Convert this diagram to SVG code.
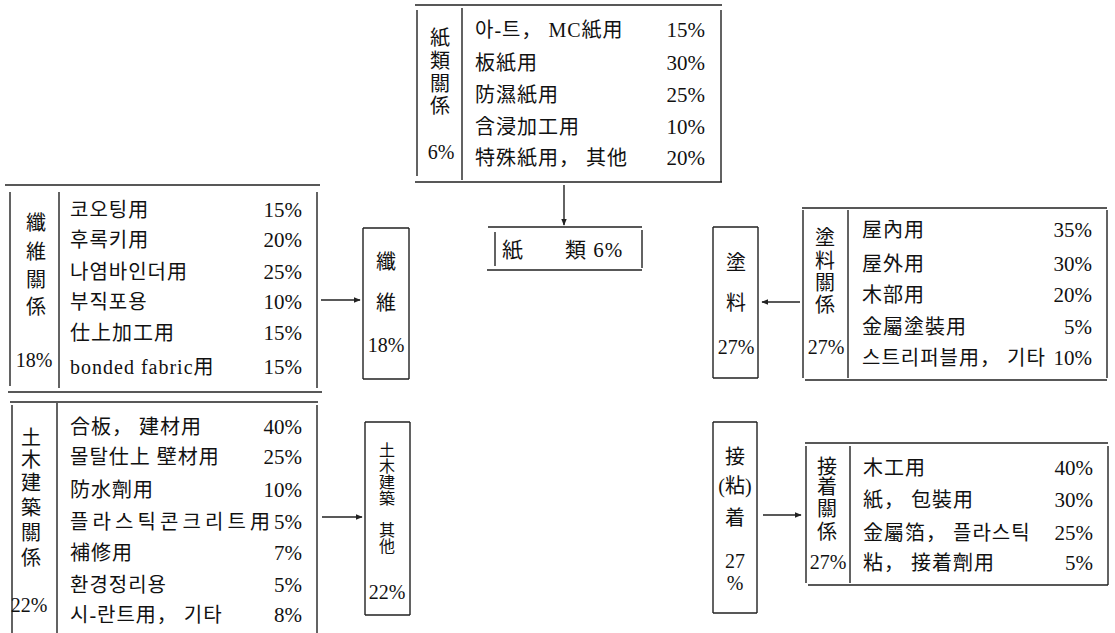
<svg xmlns="http://www.w3.org/2000/svg" width="1115" height="633" viewBox="0 0 1115 633">
<defs>
<style>
.ln{stroke:#222;stroke-width:1.4;fill:none}
text{font-family:"Liberation Serif","Noto Sans CJK KR",serif;fill:#111;dominant-baseline:central}
.r{font-size:20px;letter-spacing:1px}
.p{font-size:21px;text-anchor:end}
.v{font-size:20px;text-anchor:middle}
.s{font-size:16px;text-anchor:middle}
</style>
<marker id="ah" viewBox="0 0 10 10" refX="9" refY="5" markerWidth="7" markerHeight="7" orient="auto-start-reverse" markerUnits="userSpaceOnUse">
<path d="M0,1 L10,5 L0,9 z" fill="#222"/>
</marker>
</defs>
<rect width="1115" height="633" fill="#fff"/>

<g id="paper-rel">
<path class="ln" d="M415,5H722M415,182H722M417,10V176M462,8V180M721,10V182"/>
<text class="v" x="440" y="38">紙</text>
<text class="v" x="440" y="61">類</text>
<text class="v" x="440" y="84">關</text>
<text class="v" x="440" y="106">係</text>
<text class="v" x="441" y="152">6%</text>
<text class="r" x="475" y="30">아-트， MC紙用</text>
<text class="r" x="475" y="63">板紙用</text>
<text class="r" x="475" y="95">防濕紙用</text>
<text class="r" x="475" y="127">含浸加工用</text>
<text class="r" x="475" y="158">特殊紙用， 其他</text>
<text class="p" x="705" y="30">15%</text>
<text class="p" x="705" y="63">30%</text>
<text class="p" x="705" y="95">25%</text>
<text class="p" x="705" y="127">10%</text>
<text class="p" x="705" y="158">20%</text>
</g>

<g id="paper">
<path class="ln" d="M488,227H642M487,270H642M495,232V266M642,230V268"/>
<text class="r" x="502" y="250" style="font-size:21px">紙</text>
<text class="r" x="565" y="250" style="font-size:21px">類 6%</text>
</g>

<g id="fiber-rel">
<path class="ln" d="M5,185H320M8,392H322M10,192V386M59,192V388M317,192V388"/>
<text class="v" x="36" y="223">纖</text>
<text class="v" x="36" y="252">維</text>
<text class="v" x="36" y="280">關</text>
<text class="v" x="36" y="307">係</text>
<text class="v" x="34" y="360">18%</text>
<text class="r" x="70" y="210">코오팅用</text>
<text class="r" x="70" y="240">후록키用</text>
<text class="r" x="70" y="272">나염바인더用</text>
<text class="r" x="70" y="302">부직포용</text>
<text class="r" x="70" y="333">仕上加工用</text>
<text class="r" x="70" y="367">bonded fabric用</text>
<text class="p" x="302" y="210">15%</text>
<text class="p" x="302" y="240">20%</text>
<text class="p" x="302" y="272">25%</text>
<text class="p" x="302" y="302">10%</text>
<text class="p" x="302" y="333">15%</text>
<text class="p" x="302" y="367">15%</text>
</g>

<g id="fiber">
<path class="ln" d="M363,228H409M363,379H409M363,228V379M409,228V379"/>
<text class="v" x="386" y="262">纖</text>
<text class="v" x="386" y="303">維</text>
<text class="v" x="386" y="345">18%</text>
</g>

<g id="civil-rel">
<path class="ln" d="M10,402H318M12,405V633M57,403V633M317,405V633"/>
<text class="v" x="31" y="438">土</text>
<text class="v" x="31" y="460">木</text>
<text class="v" x="31" y="483">建</text>
<text class="v" x="31" y="508">築</text>
<text class="v" x="31" y="533">關</text>
<text class="v" x="31" y="558">係</text>
<text class="v" x="29" y="605">22%</text>
<text class="r" x="70" y="427">合板， 建材用</text>
<text class="r" x="70" y="457">몰탈仕上 壁材用</text>
<text class="r" x="70" y="490">防水劑用</text>
<text class="r" x="70" y="522" style="letter-spacing:0" textLength="200" lengthAdjust="spacing">플라스틱콘크리트用</text>
<text class="r" x="70" y="553">補修用</text>
<text class="r" x="70" y="585">환경정리용</text>
<text class="r" x="70" y="615">시-란트用， 기타</text>
<text class="p" x="302" y="427">40%</text>
<text class="p" x="302" y="457">25%</text>
<text class="p" x="302" y="490">10%</text>
<text class="p" x="302" y="522">5%</text>
<text class="p" x="302" y="553">7%</text>
<text class="p" x="302" y="585">5%</text>
<text class="p" x="302" y="615">8%</text>
</g>

<g id="civil">
<path class="ln" d="M365,422H410M365,615H410M365,422V615M410,422V615"/>
<text class="s" x="387" y="450">土</text>
<text class="s" x="387" y="466">木</text>
<text class="s" x="387" y="482">建</text>
<text class="s" x="387" y="498">築</text>
<text class="s" x="387" y="530">其</text>
<text class="s" x="387" y="546">他</text>
<text class="v" x="387" y="592">22%</text>
</g>

<g id="paint">
<path class="ln" d="M713,227H758M713,378H758M713,227V378M758,227V378"/>
<text class="v" x="736" y="263">塗</text>
<text class="v" x="736" y="303">料</text>
<text class="v" x="736" y="347">27%</text>
</g>

<g id="paint-rel">
<path class="ln" d="M802,208H1107M805,380H1107M803,210V378M848,210V378M1107,210V378"/>
<text class="v" x="825" y="238">塗</text>
<text class="v" x="825" y="261">料</text>
<text class="v" x="825" y="283">關</text>
<text class="v" x="825" y="305">係</text>
<text class="v" x="826" y="347">27%</text>
<text class="r" x="862" y="230">屋內用</text>
<text class="r" x="862" y="264">屋外用</text>
<text class="r" x="862" y="295">木部用</text>
<text class="r" x="862" y="327">金屬塗裝用</text>
<text class="r" x="862" y="358">스트리퍼블用， 기타</text>
<text class="p" x="1092" y="230">35%</text>
<text class="p" x="1092" y="264">30%</text>
<text class="p" x="1092" y="295">20%</text>
<text class="p" x="1092" y="327">5%</text>
<text class="p" x="1092" y="358">10%</text>
</g>

<g id="adhesive">
<path class="ln" d="M713,422H757M713,613H757M713,422V613M757,422V613"/>
<text class="v" x="735" y="457">接</text>
<text class="v" x="735" y="486">(粘)</text>
<text class="v" x="735" y="518">着</text>
<text class="v" x="735" y="561">27</text>
<text class="v" x="735" y="583">%</text>
</g>

<g id="adhesive-rel">
<path class="ln" d="M805,443H1108M808,585H1108M806,446V583M850,446V583M1108,446V585"/>
<text class="v" x="827" y="467">接</text>
<text class="v" x="827" y="487">着</text>
<text class="v" x="827" y="509">關</text>
<text class="v" x="827" y="532">係</text>
<text class="v" x="828" y="562">27%</text>
<text class="r" x="863" y="468">木工用</text>
<text class="r" x="863" y="500">紙， 包裝用</text>
<text class="r" x="863" y="533">金屬箔， 플라스틱</text>
<text class="r" x="863" y="563">粘， 接着劑用</text>
<text class="p" x="1093" y="468">40%</text>
<text class="p" x="1093" y="500">30%</text>
<text class="p" x="1093" y="533">25%</text>
<text class="p" x="1093" y="563">5%</text>
</g>

<g id="connectors">
<line class="ln" x1="564" y1="185" x2="564" y2="225" marker-end="url(#ah)"/>
<line class="ln" x1="321" y1="300" x2="360" y2="300" marker-end="url(#ah)"/>
<line class="ln" x1="322" y1="517" x2="362" y2="517" marker-end="url(#ah)"/>
<line class="ln" x1="800" y1="302" x2="762" y2="302" marker-end="url(#ah)"/>
<line class="ln" x1="763" y1="515" x2="801" y2="515" marker-end="url(#ah)"/>
</g>
</svg>
